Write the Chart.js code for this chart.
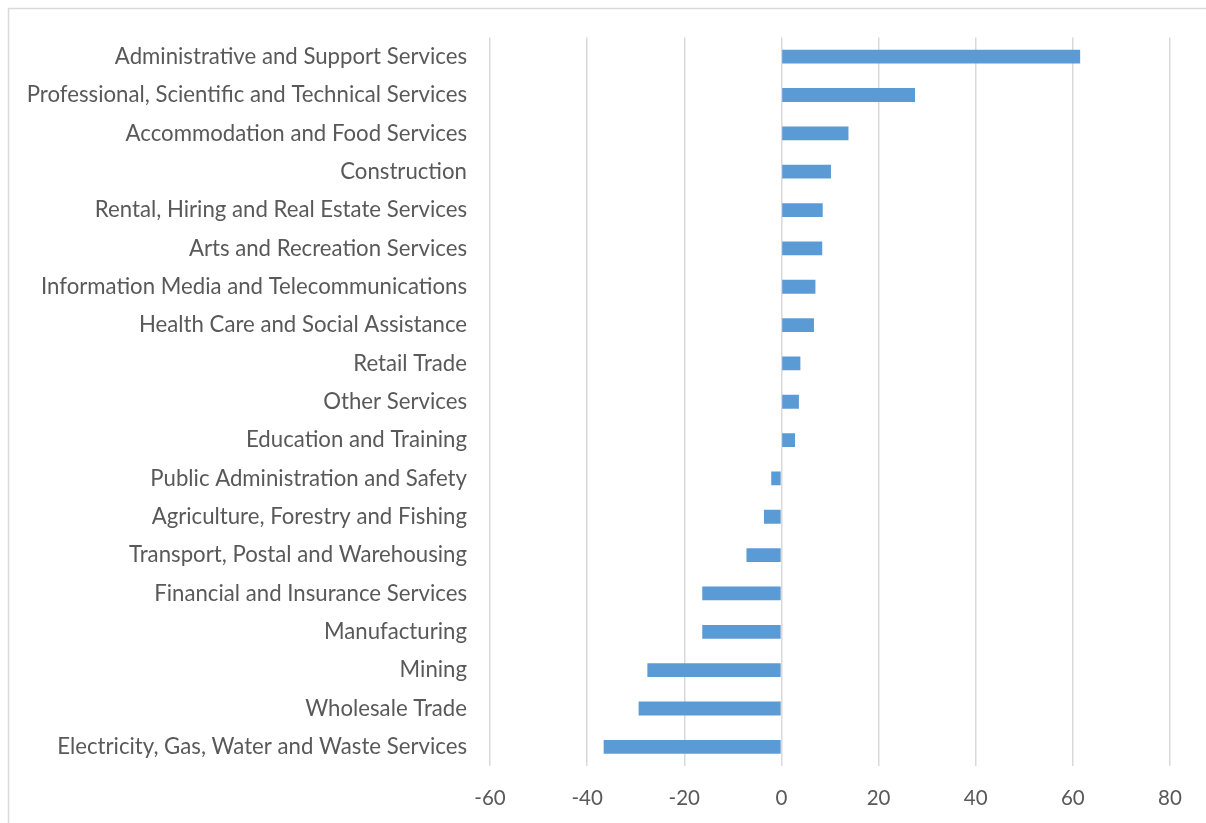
<!DOCTYPE html>
<html lang="en">
<head>
    <meta charset="UTF-8" />
    <title>Employment Change by Industry</title>
    <script src="https://cdn.jsdelivr.net/npm/chart.js"></script>
    <style>
        html, body { margin: 0; padding: 0; background: #fff; }
        #wrap { width: 1206px; height: 823px; position: relative; }
    </style>
</head>
<body>
    <div id="wrap">
        <canvas id="barChart" width="1206" height="823"></canvas>
    </div>

    <script>
        // industries, top to bottom
        const industries = [
            'Administrative and Support Services',
            'Professional, Scientific and Technical Services',
            'Accommodation and Food Services',
            'Construction',
            'Rental, Hiring and Real Estate Services',
            'Arts and Recreation Services',
            'Information Media and Telecommunications',
            'Health Care and Social Assistance',
            'Retail Trade',
            'Other Services',
            'Education and Training',
            'Public Administration and Safety',
            'Agriculture, Forestry and Fishing',
            'Transport, Postal and Warehousing',
            'Financial and Insurance Services',
            'Manufacturing',
            'Mining',
            'Wholesale Trade',
            'Electricity, Gas, Water and Waste Services'
        ];

        const changeValues = [
            61.5, 27.5, 13.8, 10.2, 8.5, 8.4, 7.0, 6.7, 3.9, 3.6, 2.8,
            -2.1, -3.6, -7.2, -16.3, -16.3, -27.6, -29.4, -36.6
        ];

        const xTicks = [-60, -40, -20, 0, 20, 40, 60, 80];

        const textColor = '#595959';
        const gridColor = '#d9d9d9';
        const fontFamily = 'Lato, "Open Sans", sans-serif';

        // light outline round the whole chart area
        const frame = {
            id: 'frame',
            beforeDraw(chart) {
                const ctx = chart.ctx;
                ctx.save();
                ctx.fillStyle = '#fff';
                ctx.fillRect(0, 0, chart.width, chart.height);
                ctx.strokeStyle = gridColor;
                ctx.lineWidth = 1.5;
                ctx.strokeRect(8.5, 8.5, chart.width + 20, chart.height + 20);
                ctx.restore();
            }
        };

        const ctx = document.getElementById('barChart').getContext('2d');
        new Chart(ctx, {
            type: 'bar',
            data: {
                labels: industries,
                datasets: [{
                    data: changeValues,
                    backgroundColor: '#5b9bd5',
                    borderWidth: 0,
                    categoryPercentage: 1,
                    barPercentage: 0.36
                }]
            },
            options: {
                indexAxis: 'y',
                responsive: false,
                animation: false,
                layout: { padding: { top: 37.5, right: 36, bottom: 0, left: 0 } },
                plugins: {
                    legend: { display: false },
                    tooltip: { enabled: false }
                },
                scales: {
                    x: {
                        min: -60,
                        max: 80,
                        afterBuildTicks: (scale) => {
                            scale.ticks = xTicks.map(v => ({ value: v }));
                        },
                        afterFit: (scale) => { scale.height = 57; },
                        grid: { color: gridColor, lineWidth: 1.5, drawTicks: false },
                        border: { display: false },
                        ticks: {
                            color: textColor,
                            padding: 20,
                            font: { family: fontFamily, size: 20.5 }
                        }
                    },
                    y: {
                        afterFit: (scale) => { scale.width = 490; },
                        grid: { display: false, drawTicks: false },
                        border: { display: false },
                        ticks: {
                            color: textColor,
                            padding: 23,
                            autoSkip: false,
                            font: { family: fontFamily, size: 22.2 }
                        }
                    }
                }
            },
            plugins: [frame]
        });
    </script>
</body>
</html>
